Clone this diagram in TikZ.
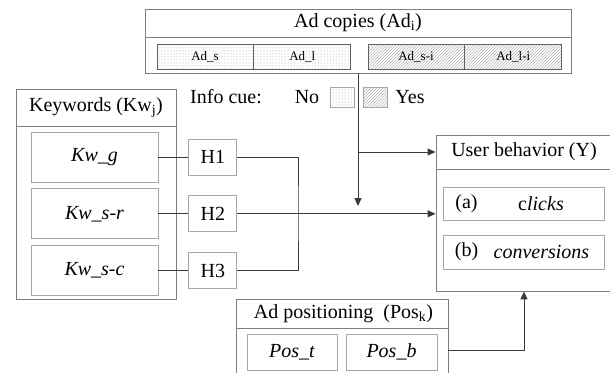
\documentclass[tikz,border=0pt]{standalone}
\usepackage{fontspec}
\setmainfont{Liberation Serif}
\usetikzlibrary{arrows.meta,positioning,patterns}
\definecolor{Frame}{HTML}{7F7F7F}
\definecolor{Soft}{HTML}{A6A6A6}
\definecolor{Wire}{HTML}{3A3A3A}
\definecolor{Dot}{HTML}{9A9A9A}
\definecolor{Hatch}{HTML}{B4B4B4}

\begin{document}
\begin{tikzpicture}[x=1pt,y=-1pt,
  frame/.style={draw=Frame,line width=0.9pt,inner sep=0pt},
  rule/.style={draw=Frame,line width=0.9pt},
  title/.style={inner sep=0pt,font=\fontsize{20}{24}\selectfont},
  inbox/.style={draw=Soft,line width=0.8pt,inner sep=0pt,font=\fontsize{20}{24}\selectfont\itshape},
  hbox/.style={draw=Soft,line width=0.8pt,inner sep=0pt,minimum width=48pt,minimum height=36pt,font=\fontsize{20}{24}\selectfont},
  adno/.style={draw=Wire!80,line width=0.8pt,inner sep=0pt,minimum height=25pt,pattern=dots,pattern color=Dot,font=\fontsize{13}{15}\selectfont},
  adyes/.style={draw=Wire!80,line width=0.8pt,inner sep=0pt,minimum height=25pt,pattern=north east lines,pattern color=Hatch,font=\fontsize{13}{15}\selectfont},
  line/.style={draw=Wire,line width=1pt},
  arrow/.style={-{Triangle[length=8pt,width=7pt]},draw=Wire,line width=1pt}
]
\clip (0,0) rectangle (610,372);

% ad copies
\node[frame,minimum width=426pt,minimum height=64pt] (adcopies) at (358,41) {};
\node[title] (adtitle) at (358,23) {Ad copies (Ad\textsubscript{i})};
\draw[rule] (adcopies.west |- 0,37.5) -- (adcopies.east |- 0,37.5);
\node[adno,minimum width=96pt] (ads) at (205,56.5) {Ad\_s};
\node[adno,minimum width=97pt,right=0pt of ads] (adl) {Ad\_l};
\node[adyes,minimum width=96pt] (adsi) at (416,56.5) {Ad\_s-i};
\node[adyes,minimum width=97pt,right=0pt of adsi] (adli) {Ad\_l-i};

% info cue legend
\node[title] (cue) at (226,97) {Info cue:};
\node[title] (cueno) at (307,97) {No};
\node[adno,draw=Soft,minimum width=24pt,minimum height=20pt] (swno) at (342,97) {};
\node[adyes,draw=Soft,minimum width=24pt,minimum height=20pt] (swyes) at (375,97) {};
\node[title] (cueyes) at (410,97) {Yes};

% keywords
\node[frame,minimum width=160pt,minimum height=210pt] (keywords) at (96,194) {};
\node[title] (kwtitle) at (96,107.5) {Keywords (Kw\textsubscript{j})};
\draw[rule] (keywords.west |- 0,126) -- (keywords.east |- 0,126);
\node[inbox,minimum width=127pt,minimum height=50pt] (kwg) at (94.5,157) {Kw\_g};
\node[inbox,minimum width=127pt,minimum height=50pt,below=6pt of kwg] (kwsr) {Kw\_s-r};
\node[inbox,minimum width=127pt,minimum height=50pt,below=6pt of kwsr] (kwsc) {Kw\_s-c};
\node[hbox,right=30pt of kwg] (h1) {H1};
\node[hbox,right=30pt of kwsr] (h2) {H2};
\node[hbox,right=30pt of kwsc] (h3) {H3};
\coordinate (join) at (298,213);

% user behavior
\node[frame,minimum width=176pt,minimum height=156pt] (user) at (524,213) {};
\node[title] (usertitle) at (524,152) {User behavior (Y)};
\draw[rule] (user.west |- 0,169) -- (user.east |- 0,169);
\node[inbox,minimum width=161pt,minimum height=33pt] (clk) at (523.5,203.5) {};
\node[title] (clka) at (466.5,203.5) {(a)};
\node[title] (clkword) at (541,203.5) {c\textit{licks}};
\node[inbox,minimum width=161pt,minimum height=34pt] (conv) at (523.5,252) {};
\node[title] (convb) at (466.5,252) {(b)};
\node[title] (convword) at (541.5,252) {\textit{conversions}};

% ad positioning
\node[frame,minimum width=212pt,minimum height=82pt] (adpos) at (342,340) {};
\node[title] (postitle) at (343.5,313.5) {Ad positioning\ \ (Pos\textsubscript{k})};
\draw[rule] (adpos.west |- 0,328) -- (adpos.east |- 0,328);
\node[inbox,minimum width=90pt,minimum height=36pt] (post) at (292,352) {Pos\_t};
\node[inbox,minimum width=91pt,minimum height=36pt] (posb) at (391.5,352) {Pos\_b};

% connectors
\draw[line] (kwg) -- (h1);
\draw[line] (kwsr) -- (h2);
\draw[line] (kwsc) -- (h3);
\draw[line] (h1.east) -| (join) |- (h3.east);
\draw[arrow] (h2.east) -- (h2.east -| user.west);
\coordinate (adtip) at (358,206);
\draw[arrow] (adcopies.south) -- (adtip);
\draw[arrow] (adcopies.south |- usertitle) -- (usertitle -| user.west);
\draw[arrow] (adpos.east |- 0,350) -| (user.south);
\end{tikzpicture}
\end{document}
